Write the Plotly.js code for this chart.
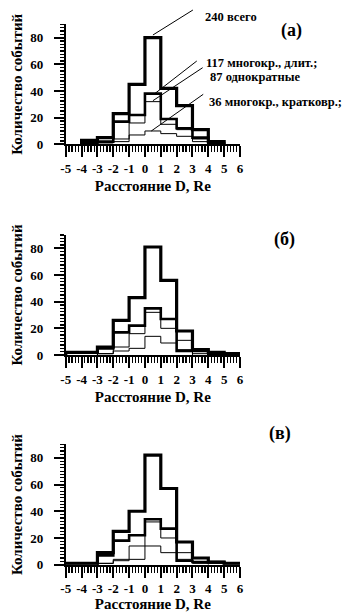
<!DOCTYPE html>
<html>
<head>
<meta charset="utf-8">
<script src="https://cdn.plot.ly/plotly-3.0.1.min.js"></script>
<style>
html,body{margin:0;padding:0;background:#ffffff;}
#chart{width:361px;height:614px;}
</style>
</head>
<body>
<div id="chart"></div>
<script>
// ---------- data ----------
const binEdges = [-5, -4, -3, -2, -1, 0, 1, 2, 3, 4, 5, 6];
const xTickLabels = ['-5', '-4', '-3', '-2', '-1', '0', '1', '2', '3', '4', '5', '6'];
const yTickValues = [0, 20, 40, 60, 80];
const yTickLabels = ['0', '20', '40', '60', '80'];

// Panel (а)
const aTotal  = [0, 3, 5, 23, 45, 80, 42, 29, 11, 2, 0];   // 240 всего
const aLong   = [0, 1, 2, 17, 22, 38, 19, 12, 5, 1, 0];    // 117 многокр., длит.
const aSingle = [0, 2, 2, 4, 16, 32, 15, 11, 4, 1, 0];     // 87 однократные
const aShort  = [0, 0, 1, 2, 7, 10, 8, 6, 2, 0, 0];        // 36 многокр., кратковр.

// Panel (б)
const bTotal  = [2, 2, 6, 26, 43, 81, 56, 18, 4, 2, 1];
const bLong   = [2, 2, 5, 17, 22, 35, 27, 3, 3, 1, 1];
const bSingle = [0, 0, 1, 6, 16, 32, 20, 11, 1, 1, 0];
const bShort  = [0, 0, 1, 3, 5, 14, 9, 4, 0, 0, 0];

// Panel (в)
const cTotal  = [1, 1, 9, 25, 40, 82, 57, 17, 5, 2, 1];
const cLong   = [1, 1, 7, 18, 22, 34, 27, 3, 2, 2, 1];
const cSingle = [0, 0, 1, 4, 4, 32, 20, 4, 2, 1, 0];
const cShort  = [0, 0, 1, 3, 14, 14, 9, 9, 1, 0, 0];

const panelLabels = ['(а)', '(б)', '(в)'];
const seriesLabels = ['240 всего', '117 многокр., длит.;', '87 однократные', '36 многокр., кратковр.;'];
const xTitle = 'Расстояние D, Re';
const yTitle = 'Количество событий';

// ---------- helpers ----------
const W = 361, H = 614;
const px = v => v / W;
const py = v => 1 - v / H;
const FONT = 'Liberation Serif';

function stepTrace(values, xa, ya, width) {
  let f = 0, l = values.length - 1;
  while (f < values.length && values[f] === 0) f++;
  while (l >= 0 && values[l] === 0) l--;
  const xs = [binEdges[f]], ys = [0];
  for (let i = f; i <= l; i++) { xs.push(binEdges[i]); ys.push(values[i]); }
  xs.push(binEdges[l + 1]); ys.push(0);
  return {
    type: 'scatter', mode: 'lines', x: xs, y: ys, xaxis: xa, yaxis: ya,
    line: {shape: 'hv', color: '#000', width: width}, hoverinfo: 'skip', showlegend: false
  };
}

const panels = [
  {xa: 'x',  ya: 'y',  data: [aTotal, aLong, aSingle, aShort], top: 24.35, bottom: 144.3},
  {xa: 'x2', ya: 'y2', data: [bTotal, bLong, bSingle, bShort], top: 235.0, bottom: 355.0},
  {xa: 'x3', ya: 'y3', data: [cTotal, cLong, cSingle, cShort], top: 444.4, bottom: 564.7}
];

const traces = [];
panels.forEach(p => {
  traces.push(stepTrace(p.data[3], p.xa, p.ya, 1));
  traces.push(stepTrace(p.data[2], p.xa, p.ya, 1));
  traces.push(stepTrace(p.data[1], p.xa, p.ya, 2.6));
  traces.push(stepTrace(p.data[0], p.xa, p.ya, 3.2));
});

const xDomain = [62.3 / W, 241 / W];
const xTitleStandoff = [6, 6, 2];

function xAxis(i, anchor) {
  return {
    domain: xDomain, range: [-5, 6], anchor: anchor, fixedrange: true,
    showline: true, linecolor: '#000', linewidth: 2, mirror: false,
    showgrid: false, zeroline: false,
    tickmode: 'array', tickvals: binEdges, ticktext: xTickLabels,
    ticks: 'outside', ticklen: 11, tickwidth: 2, tickcolor: '#000',
    minor: {tickmode: 'linear', tick0: -5, dtick: 0.2, ticks: 'outside', ticklen: 6, tickwidth: 1.3, tickcolor: '#000', showgrid: false},
    tickfont: {family: FONT, size: 13, color: '#000', weight: 'bold'},
    title: {text: xTitle, standoff: xTitleStandoff[i], font: {family: FONT, size: 15, color: '#000', weight: 'bold'}},
    automargin: true
  };
}
function yAxis(p, anchor) {
  return {
    domain: [py(p.bottom), py(p.top)], range: [0, 90], anchor: anchor, fixedrange: true,
    showline: true, linecolor: '#000', linewidth: 2,
    showgrid: false, zeroline: false,
    tickmode: 'array', tickvals: yTickValues, ticktext: yTickLabels,
    ticks: 'outside', ticklen: 10, tickwidth: 2, tickcolor: '#000',
    ticklabelstandoff: 8,
    minor: {tickmode: 'linear', tick0: 0, dtick: 2.5, ticks: 'outside', ticklen: 4, tickwidth: 1.2, tickcolor: '#000', showgrid: false},
    tickfont: {family: FONT, size: 13, color: '#000', weight: 'bold'},
    title: {text: yTitle, standoff: 4, font: {family: FONT, size: 15, color: '#000', weight: 'bold'}},
    automargin: false
  };
}

const annFont = {family: FONT, size: 12.5, color: '#000', weight: 'bold'};
const lblFont = {family: FONT, size: 18, color: '#000', weight: 'bold'};
const annotations = [
  {text: panelLabels[0], x: px(307), y: py(18), xref: 'paper', yref: 'paper', showarrow: false, font: lblFont},
  {text: panelLabels[1], x: px(299), y: py(240), xref: 'paper', yref: 'paper', showarrow: false, font: lblFont},
  {text: panelLabels[2], x: px(295), y: py(446), xref: 'paper', yref: 'paper', showarrow: false, font: lblFont},
  {text: seriesLabels[0], x: px(203), y: py(7.5), xref: 'paper', yref: 'paper', xanchor: 'left', showarrow: false, font: annFont},
  {text: seriesLabels[1], x: px(204), y: py(53.5), xref: 'paper', yref: 'paper', xanchor: 'left', showarrow: false, font: annFont},
  {text: seriesLabels[2], x: px(208), y: py(68), xref: 'paper', yref: 'paper', xanchor: 'left', showarrow: false, font: annFont},
  {text: seriesLabels[3], x: px(207), y: py(93), xref: 'paper', yref: 'paper', xanchor: 'left', showarrow: false, font: annFont}
];

function leader(x0, y0, x1, y1) {
  return {type: 'line', xref: 'paper', yref: 'paper', x0: px(x0), y0: py(y0), x1: px(x1), y1: py(y1), line: {color: '#000', width: 1}};
}
const shapes = [
  leader(151.7, 35, 192.7, 10),
  leader(152.7, 94.3, 196.7, 61),
  leader(151.7, 100.7, 202.7, 67.7),
  leader(150, 131, 203.3, 94.3)
];

const layout = {
  width: W, height: H,
  margin: {l: 0, r: 0, t: 0, b: 0, pad: 0},
  paper_bgcolor: '#fff', plot_bgcolor: '#fff',
  showlegend: false,
  font: {family: FONT, color: '#000'},
  xaxis: xAxis(0, 'y'), xaxis2: xAxis(1, 'y2'), xaxis3: xAxis(2, 'y3'),
  yaxis: yAxis(panels[0], 'x'), yaxis2: yAxis(panels[1], 'x2'), yaxis3: yAxis(panels[2], 'x3'),
  annotations: annotations,
  shapes: shapes
};

Plotly.newPlot('chart', traces, layout, {displayModeBar: false, staticPlot: true});
</script>
</body>
</html>
